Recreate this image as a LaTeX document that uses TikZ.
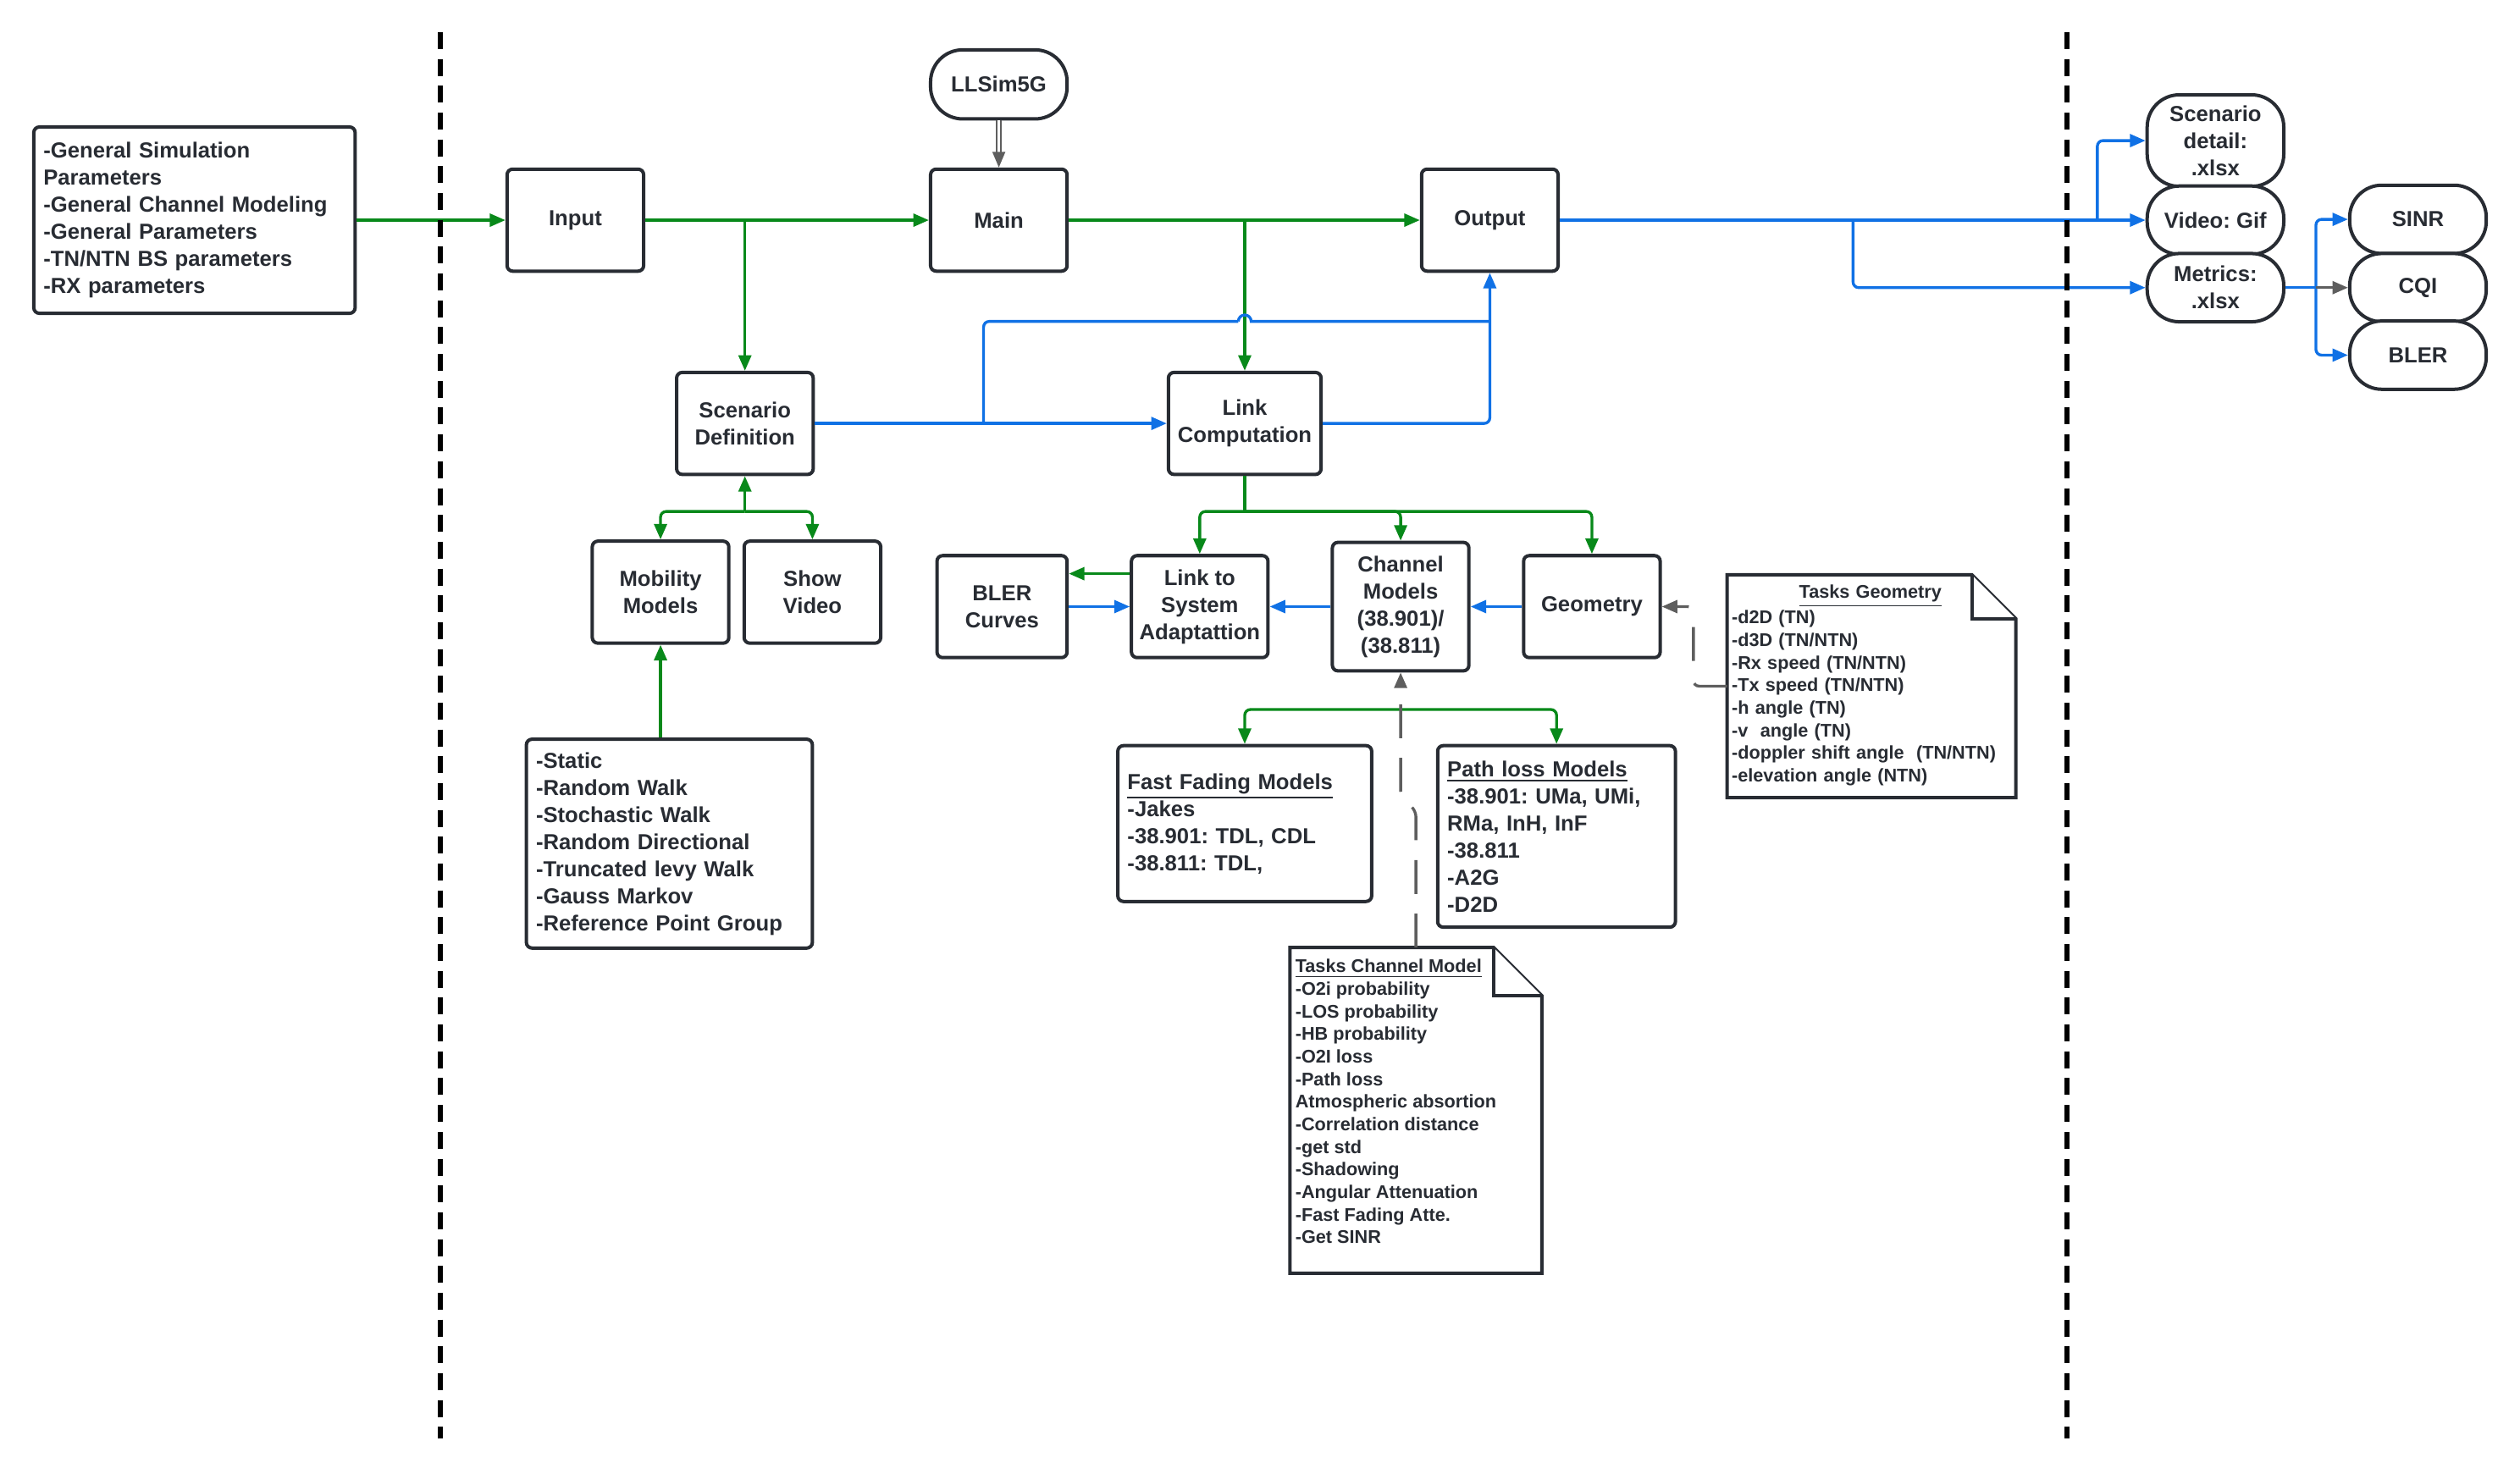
\documentclass[tikz,border=0pt]{standalone}
\usepackage{fontspec}
\setmainfont{Liberation Sans}
\usepackage{tikz}
\usetikzlibrary{calc,arrows.meta}
\definecolor{inkc}{HTML}{282C33}
\definecolor{flowg}{HTML}{08891A}
\definecolor{flowb}{HTML}{1071E5}
\definecolor{flowk}{HTML}{5E5E5E}
\frenchspacing

\begin{document}
\begin{tikzpicture}[>={Triangle[length=5.5pt,width=4.5pt]},x=0.02cm,y=-0.02cm,
  blk/.style={draw=inkc,line width=1.2pt,rounded corners=2pt,fill=white,text=inkc,align=center,font=\fontsize{7.7}{9.6}\selectfont\bfseries,minimum width=1.7cm,minimum height=1.27cm,inner sep=2pt},
  pill/.style={blk,rounded corners=0.4cm,minimum height=0.85cm},
  lst/.style={blk,align=left,inner xsep=0.12cm},
  note/.style={text=inkc,align=left,font=\fontsize{6.5}{8}\selectfont\bfseries,inner sep=0pt},
  noteline/.style={draw=inkc,line width=1.2pt,fill=white,line join=miter},
  gl/.style={draw=flowg,line width=1pt,rounded corners=2pt},
  bl/.style={draw=flowb,line width=1pt,rounded corners=2pt},
  kl/.style={draw=flowk,line width=1pt,rounded corners=2pt},
  sep/.style={draw=black,line width=1.8pt,dash pattern=on 6pt off 3.5pt}]
  \useasboundingbox (0,0) rectangle (1568,917);

  \node[lst,text width=3.76cm,minimum height=2.32cm] (params) at (121,137) {-General Simulation\\Parameters\\-General Channel Modeling\\-General Parameters\\-TN/NTN BS parameters\\-RX parameters};
  \node[blk] (input) at (358,137) {Input};
  \node[pill,minimum height=0.86cm] (llsim) at (621.5,52.5) {LLSim5G};
  \node[blk] (main) at (621.5,137) {Main};
  \node[blk] (output) at (927,137) {Output};
  \node[blk] (scen) at (463.5,263.5) {Scenario\\Definition};
  \node[blk,minimum width=1.9cm] (linkc) at (774.5,263.5) {Link\\Computation};
  \node[blk] (mob) at (411,368.5) {Mobility\\Models};
  \node[blk] (video) at (505.5,368.5) {Show\\Video};
  \node[lst,text width=3.32cm,minimum height=2.6cm] (moblist) at (416.5,525) {-Static\\-Random Walk\\-Stochastic Walk\\-Random Directional\\-Truncated levy Walk\\-Gauss Markov\\-Reference Point Group};
  \node[blk,minimum width=1.62cm] (blerc) at (623.5,377.5) {BLER\\Curves};
  \node[blk] (l2s) at (746.5,377.5) {Link to\\System\\Adaptattion};
  \node[blk,minimum height=1.6cm] (chan) at (871.5,377.5) {Channel\\Models\\(38.901)/\\(38.811)};
  \node[blk] (geom) at (990.5,377.5) {Geometry};
  \node[lst,text width=2.92cm,minimum height=1.94cm] (ffade) at (774.5,512.5) {\underline{Fast Fading Models}\\-Jakes\\-38.901: TDL, CDL\\-38.811: TDL,};
  \node[lst,text width=2.72cm,minimum height=2.26cm] (ploss) at (968.5,520.5) {\underline{Path loss Models}\\-38.901: UMa, UMi,\\RMa, InH, InF\\-38.811\\-A2G\\-D2D};

  \node[minimum width=3.12cm,minimum height=4.04cm] (tcm) at (881,691) {};
  \draw[noteline] (tcm.north west) -- ([xshift=-0.6cm]tcm.north east) -- ([yshift=-0.6cm]tcm.north east) -- (tcm.south east) -- (tcm.south west) -- cycle;
  \draw[noteline] ([xshift=-0.6cm]tcm.north east) |- ([yshift=-0.6cm]tcm.north east);
  \node[note,anchor=north west] (tcmtxt) at ([shift={(0.06cm,-0.14cm)}]tcm.north west) {\underline{Tasks Channel Model}\\-O2i probability\\-LOS probability\\-HB probability\\-O2I loss\\-Path loss\\Atmospheric absortion\\-Correlation distance\\-get std\\-Shadowing\\-Angular Attenuation\\-Fast Fading Atte.\\-Get SINR};

  \node[minimum width=3.58cm,minimum height=2.76cm] (tgeo) at (1164.5,427) {};
  \draw[noteline] (tgeo.north west) -- ([xshift=-0.55cm]tgeo.north east) -- ([yshift=-0.55cm]tgeo.north east) -- (tgeo.south east) -- (tgeo.south west) -- cycle;
  \draw[noteline] ([xshift=-0.55cm]tgeo.north east) |- ([yshift=-0.55cm]tgeo.north east);
  \node[note,anchor=north west,text width=3.45cm] (tgeotxt) at ([shift={(0.05cm,-0.12cm)}]tgeo.north west) {\makebox[\linewidth]{\underline{Tasks Geometry}}\\-d2D (TN)\\-d3D (TN/NTN)\\-Rx speed (TN/NTN)\\-Tx speed (TN/NTN)\\-h angle (TN)\\-v\ \ angle (TN)\\-doppler shift angle\ \ (TN/NTN)\\-elevation angle (NTN)};

  \node[pill,minimum height=1.14cm] (xscen) at (1378.5,87.5) {Scenario\\detail:\\.xlsx};
  \node[pill] (gif) at (1378.5,137) {Video: Gif};
  \node[pill] (xmet) at (1378.5,179) {Metrics:\\.xlsx};
  \node[pill] (sinr) at (1504.5,136.5) {SINR};
  \node[pill] (cqi) at (1504.5,179) {CQI};
  \node[pill] (blero) at (1504.5,221) {BLER};

  \coordinate (lcj) at ([yshift=-0.44cm]linkc.south);
  \coordinate (sdj) at ([yshift=-0.44cm]scen.south);
  \coordinate (chj) at ([yshift=-0.46cm]chan.south);
  \coordinate (sdb) at (612,263.5);
  \coordinate (hop) at (774.5,200);
  \coordinate (obj) at (927,200);
  \coordinate (oj1) at (1305,137);
  \coordinate (oj2) at (1153,137);
  \coordinate (mj) at (1441,179);

  \draw[gl,->] (params.east) -- (input.west);
  \draw[gl,->] (input.east) -- (main.west);
  \draw[gl,->] (input.east -| scen.north) -- (scen.north);
  \draw[gl,->] (main.east) -- (output.west);
  \draw[gl,->] (main.east -| linkc.north) -- (linkc.north);
  \draw[gl] (linkc.south) -- (lcj);
  \draw[gl,->] (lcj) -| (l2s.north);
  \draw[gl,->] (lcj) -| (chan.north);
  \draw[gl,->] (lcj) -| (geom.north);
  \draw[gl,->] (sdj) -- (scen.south);
  \draw[gl,->] (sdj) -| (mob.north);
  \draw[gl,->] (sdj) -| (video.north);
  \draw[gl,->] (moblist.north -| mob.south) -- (mob.south);
  \draw[gl,->] ([yshift=0.41cm]l2s.west) -- ([yshift=0.41cm]blerc.east);
  \draw[gl,->] (chj) -| (ffade.north);
  \draw[gl,->] (chj) -| (ploss.north);

  \draw[bl,->] (blerc.east) -- (l2s.west);
  \draw[bl,->] (chan.west) -- (l2s.east);
  \draw[bl,->] (geom.west) -- (chan.east);
  \draw[bl,->] (scen.east) -- (linkc.west);
  \draw[bl,->] (linkc.east) -| (output.south);
  \draw[bl] (sdb) |- ([xshift=-0.08cm]hop);
  \draw[bl,sharp corners] ([xshift=-0.08cm]hop) arc[start angle=180,end angle=0,radius=0.08cm] -- (obj);
  \draw[bl,->] (output.east) -- (gif.west);
  \draw[bl,->] (oj1) |- (xscen.west);
  \draw[bl,->] (oj2) |- (xmet.west);
  \draw[bl] (xmet.east) -- (mj);
  \draw[bl,->] (mj) |- (sinr.west);
  \draw[bl,->] (mj) |- (blero.west);
  \draw[kl,->] (mj) -- (cqi.west);

  \draw[kl,line width=0.5pt,double=white,double distance=1pt,->] (llsim.south) -- (main.north);
  \draw[kl,dash pattern=on 12pt off 7pt,->] (tcm.north) -- ++(0,-85) -- ++(-9.5,-9) -- (chan.south);
  \draw[kl,dash pattern=on 12pt off 8pt,->] (tgeo.west) -- ++(-21,0) |- (geom.east);

  \draw[sep] (274,20) -- (274,895);
  \draw[sep] (1286,20) -- (1286,895);
\end{tikzpicture}
\end{document}
